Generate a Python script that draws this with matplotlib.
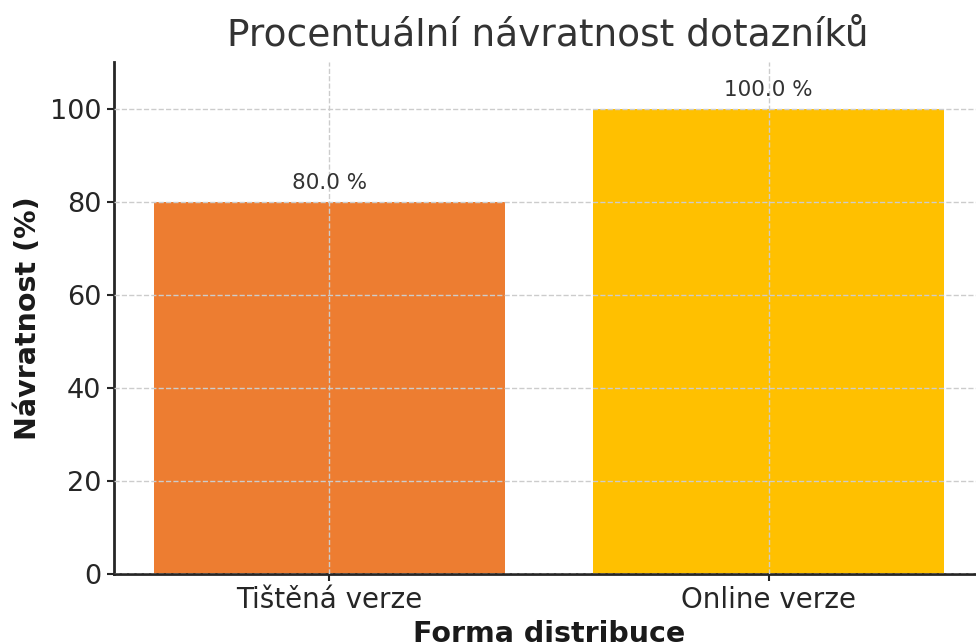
import matplotlib
matplotlib.use("Agg")
import matplotlib.pyplot as plt

categories = ["Tištěná verze", "Online verze"]
values = [80.0, 100.0]
colors = ["#ED7D31", "#FFC000"]
title = "Procentuální návratnost dotazníků"
xlabel = "Forma distribuce"
ylabel = "Návratnost (%)"

plt.rcParams['font.family'] = ['DejaVu Sans']
W, H = 976, 643
fig = plt.figure(figsize=(W/100, H/100), dpi=100)
ax = fig.add_axes([114/W, (H-574)/H, (984-114)/W, (574-62)/H])

x = list(range(len(categories)))
bars = ax.bar(x, values, color=colors, width=0.8, zorder=1)
ax.set_xticks(x)
ax.set_xticklabels(categories, fontsize=20, color="#262626")
ax.set_ylim(0, 110)
ax.set_yticks([0, 20, 40, 60, 80, 100])
ax.tick_params(axis='y', labelsize=19.5, colors="#262626", length=5, width=1.5, pad=4)
ax.tick_params(axis='x', colors="#262626", length=5, width=1.5, pad=4)
ax.grid(True, linestyle='--', color='#cccccc', linewidth=1, zorder=2)
ax.set_axisbelow(False)
for s in ['top', 'right']:
    ax.spines[s].set_visible(False)
for s in ['left', 'bottom']:
    ax.spines[s].set_linewidth(2)
    ax.spines[s].set_color("#262626")

for b, v in zip(bars, values):
    ax.annotate(f"{v:.1f} %", (b.get_x() + b.get_width()/2, v),
                xytext=(0, 6), textcoords='offset points',
                ha='center', va='bottom', fontsize=15.5, color="#333333")

ax.set_xlabel(xlabel, fontsize=20.5, fontweight='bold', color="#1a1a1a", labelpad=4)
ax.set_ylabel(ylabel, fontsize=20.5, fontweight='bold', color="#1a1a1a", labelpad=6)
fig.text(548/W, 1 - 35/H, title, fontsize=27, color="#333333", ha='center', va='center')

fig.savefig("out.png", dpi=100)
